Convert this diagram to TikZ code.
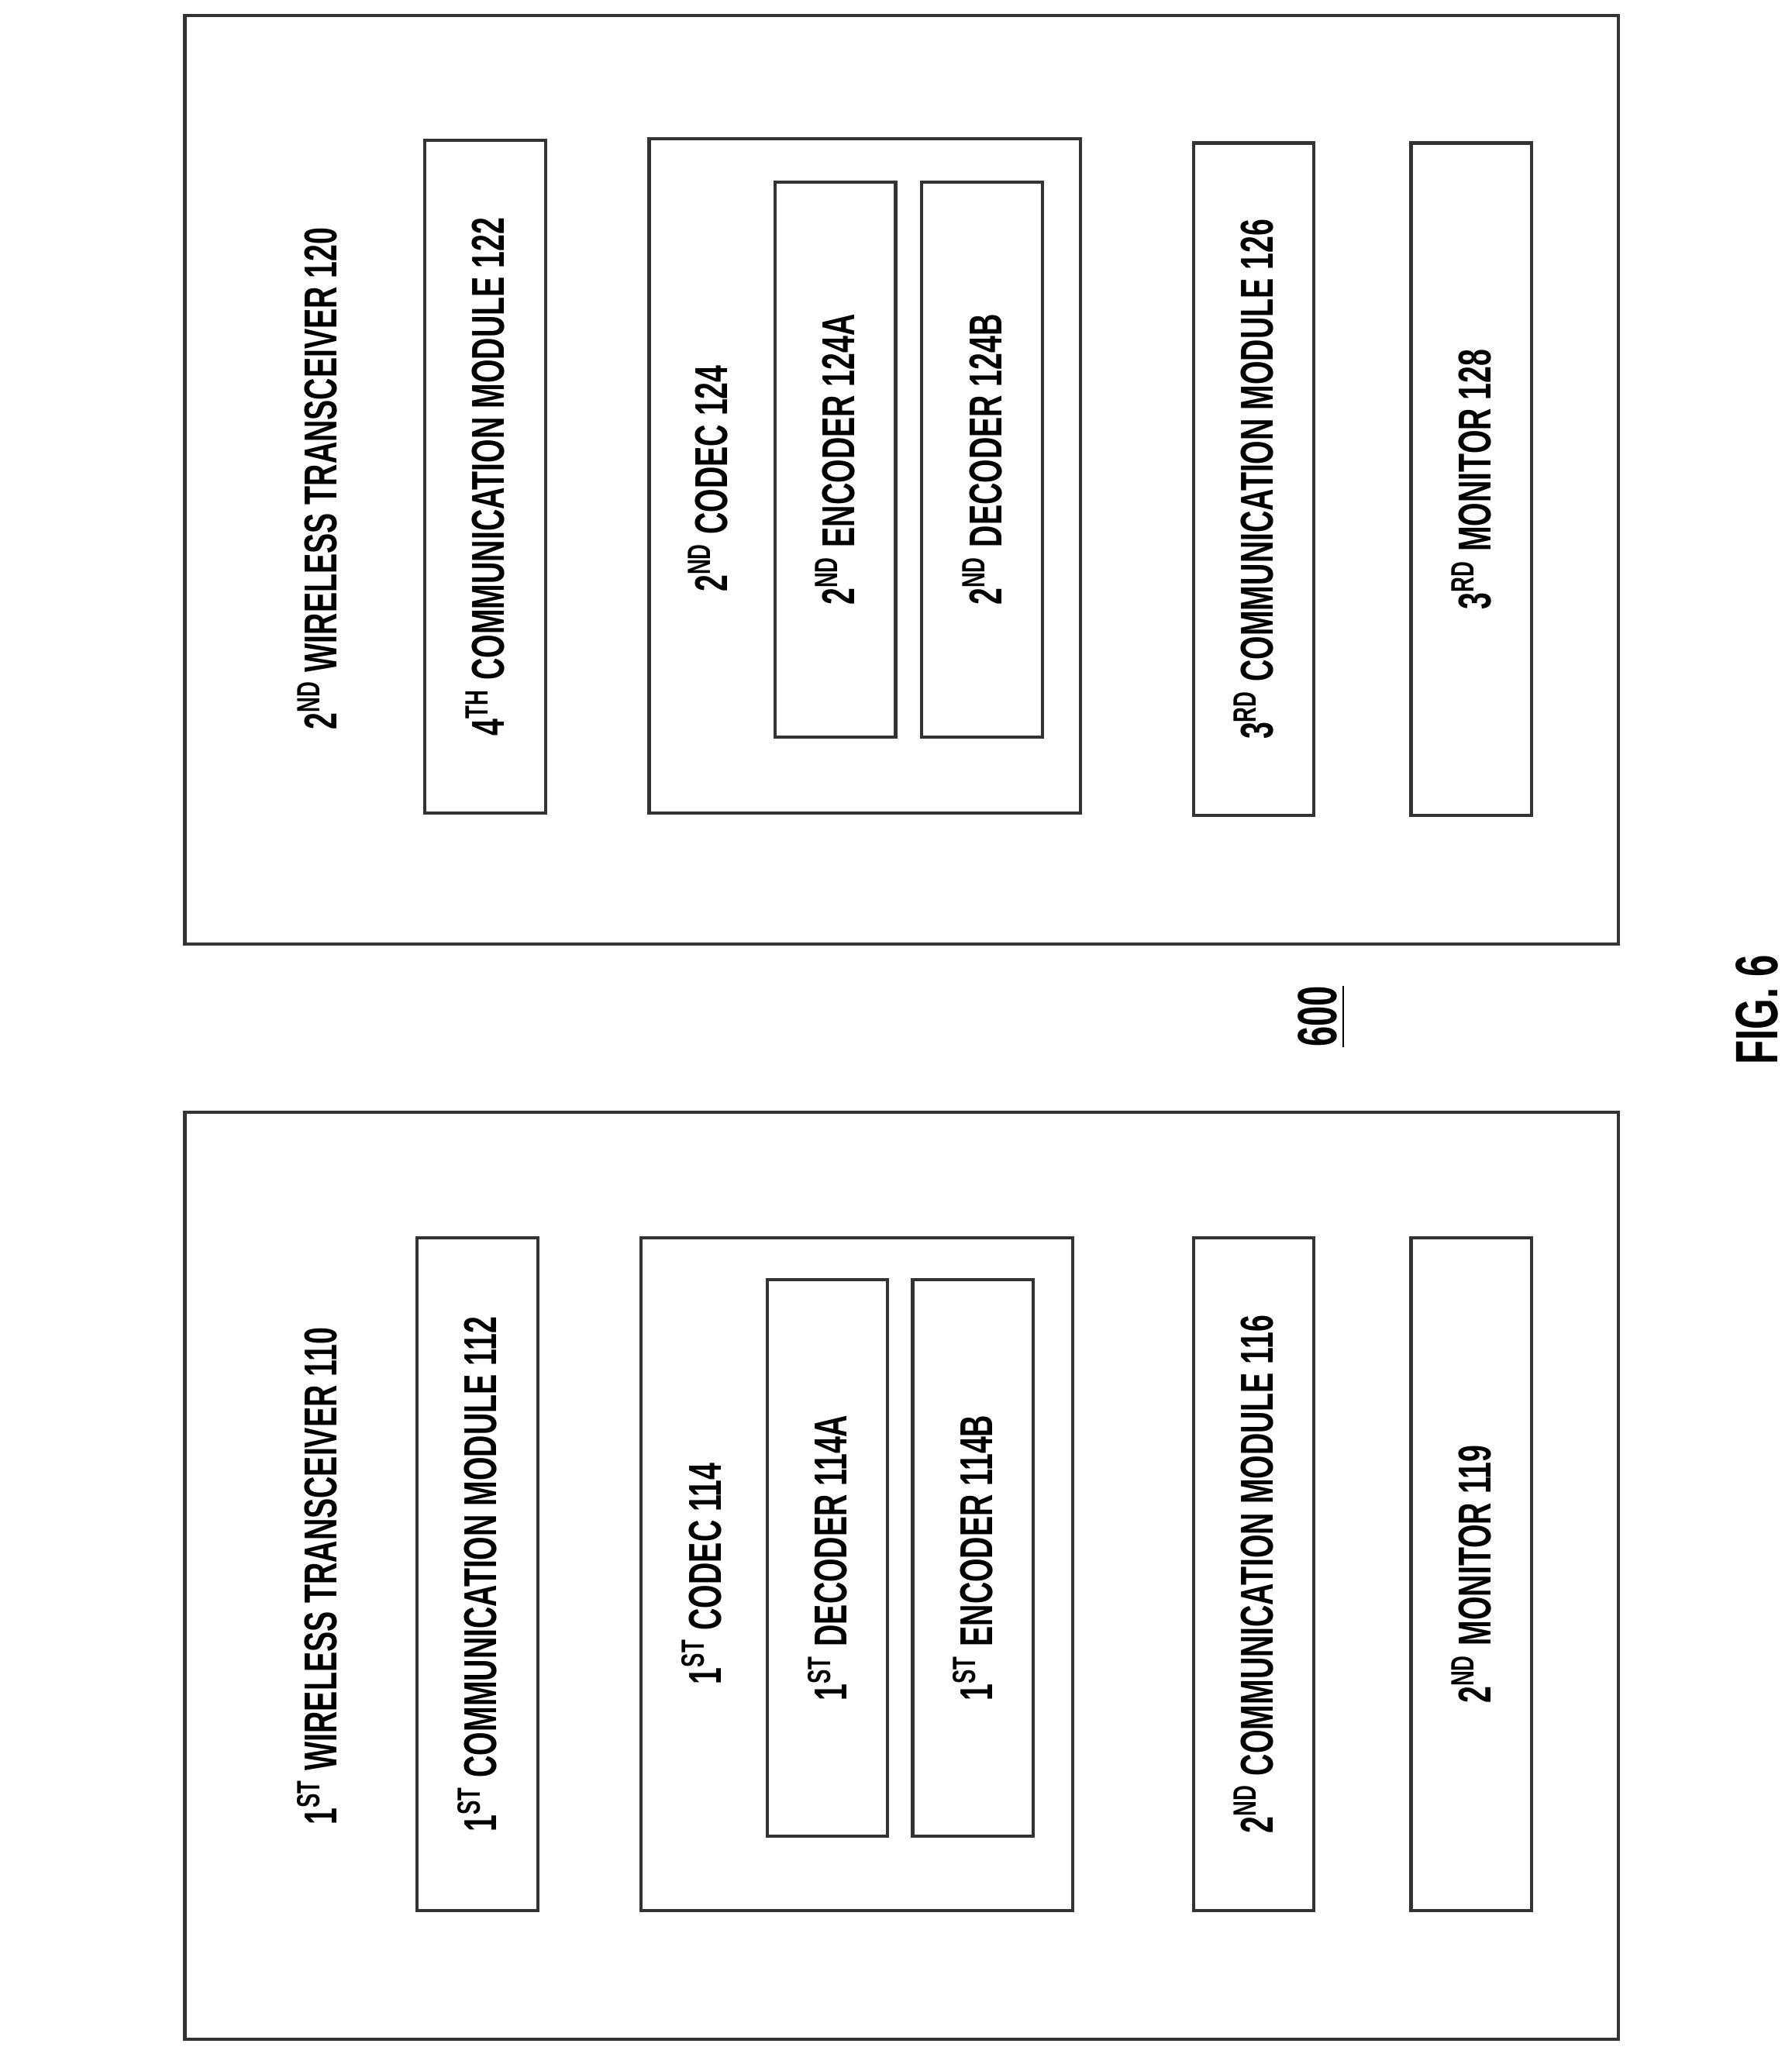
\documentclass[tikz,border=0pt]{standalone}
\usepackage{fontspec}
\setmainfont{Liberation Sans}
\usepackage{graphicx}
\usetikzlibrary{positioning}
\tikzstyle{box}  =[draw, rotate=90, line width=0.7pt, inner sep=0pt,
                   draw=black!80]
\tikzstyle{label}=[rotate=90, inner sep=0pt, font=\fontsize{10}{12}\selectfont\bfseries]
\newcommand{\lbl}[1]{\scalebox{0.66}[1]{#1}}
\newcommand{\sps}[1]{\textsuperscript{#1}}

\begin{document}
\begin{tikzpicture}[x=1mm, y=-1mm, every node/.append style={font=\fontsize{10}{12}\selectfont\bfseries}]
    \useasboundingbox (0,0) rectangle (136.6,156.1);
    % transceivers
    \node[box, minimum width=70.8mm, minimum height=109.3mm] (tr2) at (68.75,36.6) {};
    \node[box, minimum width=70.7mm, minimum height=109.3mm] (tr1) at (68.75,120.15) {};
    \node[label] (tr2l) at (24.2,36.5) {\lbl{2\sps{ND} WIRELESS TRANSCEIVER 120}};
    \node[label] (tr1l) at (24.2,120.2) {\lbl{1\sps{ST} WIRELESS TRANSCEIVER 110}};
    % second transceiver
    \node[box, minimum width=51.3mm, minimum height=9.2mm] (cm4) at (37.0,36.35)
        {\lbl{4\sps{TH} COMMUNICATION MODULE 122}};
    \node[box, minimum width=51.4mm, minimum height=32.9mm] (cd2) at (65.95,36.3) {};
    \node[label] (cd2l) at (54.0,36.5) {\lbl{2\sps{ND} CODEC 124}};
    \node[box, minimum width=42.3mm, minimum height=9.2mm] (en2) at (63.7,35.05)
        {\lbl{2\sps{ND} ENCODER 124A}};
    \node[box, minimum width=42.3mm, minimum height=9.2mm] (de2) at (74.9,35.05)
        {\lbl{2\sps{ND} DECODER 124B}};
    \node[box, minimum width=51.3mm, minimum height=9.2mm] (cm3) at (95.6,36.55)
        {\lbl{3\sps{RD} COMMUNICATION MODULE 126}};
    \node[box, minimum width=51.3mm, minimum height=9.2mm] (mn3) at (112.2,36.55)
        {\lbl{3\sps{RD} MONITOR 128}};
    % first transceiver
    \node[box, minimum width=51.3mm, minimum height=9.2mm] (cm1) at (36.4,120.05)
        {\lbl{1\sps{ST} COMMUNICATION MODULE 112}};
    \node[box, minimum width=51.3mm, minimum height=32.9mm] (cd1) at (65.35,120.05) {};
    \node[label] (cd1l) at (53.5,120.0) {\lbl{1\sps{ST} CODEC 114}};
    \node[box, minimum width=42.4mm, minimum height=9.2mm] (de1) at (63.1,118.8)
        {\lbl{1\sps{ST} DECODER 114A}};
    \node[box, minimum width=42.4mm, minimum height=9.2mm] (en1) at (74.2,118.8)
        {\lbl{1\sps{ST} ENCODER 114B}};
    \node[box, minimum width=51.3mm, minimum height=9.2mm] (cm2) at (95.6,120.05)
        {\lbl{2\sps{ND} COMMUNICATION MODULE 116}};
    \node[box, minimum width=51.3mm, minimum height=9.2mm] (mn2) at (112.2,120.05)
        {\lbl{2\sps{ND} MONITOR 119}};
    % titles
    \node[label, font=\fontsize{12}{14}\selectfont\bfseries] (num) at (100.8,77.5) {\lbl{\underline{600}}};
    \node[label, font=\fontsize{13}{16}\selectfont\bfseries] (fig) at (134.0,77.0) {\lbl{FIG. 6}};
\end{tikzpicture}
\end{document}
